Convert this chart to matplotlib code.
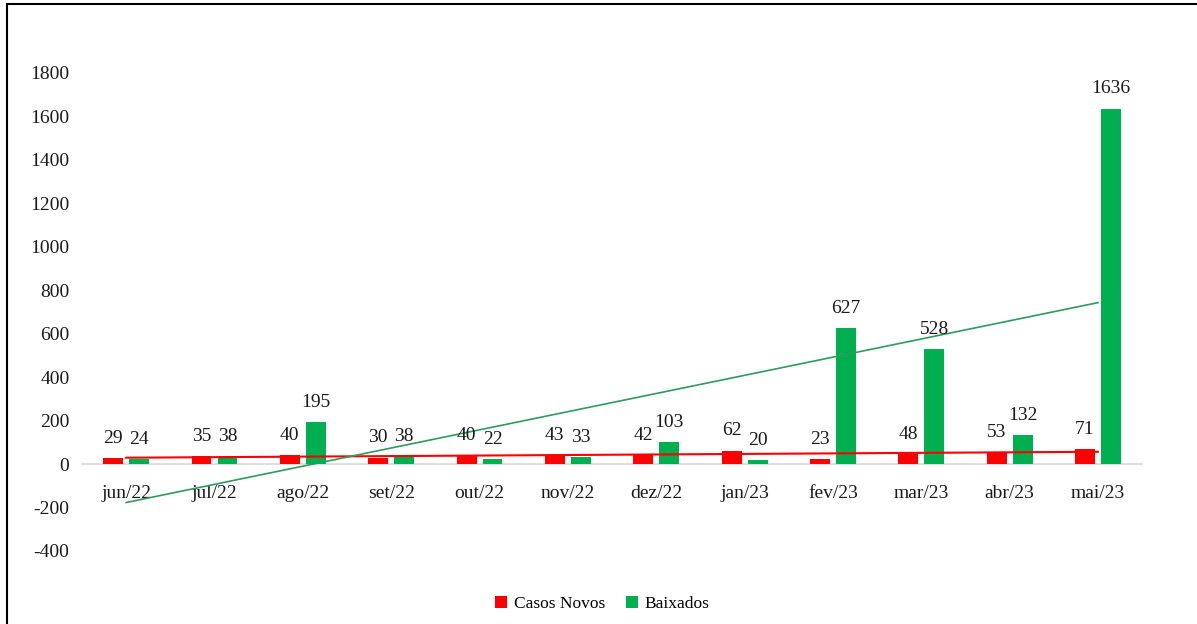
import numpy as np
import matplotlib

matplotlib.use("Agg")
import matplotlib.pyplot as plt
from matplotlib.patches import Rectangle

plt.rcParams["font.family"] = ["Liberation Serif", "DejaVu Serif"]
plt.rcParams["axes.unicode_minus"] = False

meses = ["jun/22", "jul/22", "ago/22", "set/22", "out/22", "nov/22",
         "dez/22", "jan/23", "fev/23", "mar/23", "abr/23", "mai/23"]
casos_novos = [29, 35, 40, 30, 40, 43, 42, 62, 23, 48, 53, 71]
baixados = [24, 38, 195, 38, 22, 33, 103, 20, 627, 528, 132, 1636]

RED = "#FF0000"
GREEN = "#00B050"

fig = plt.figure(figsize=(11.97, 6.24), dpi=100)
ax = fig.add_axes([0.0685, 0.117, 0.8856, 0.8357])

x = np.arange(len(meses))
w = 0.226
off = 0.147
b1 = ax.bar(x - off, casos_novos, w, color=RED, label="Casos Novos", zorder=2)
b2 = ax.bar(x + off, baixados, w, color=GREEN, label="Baixados", zorder=2)

# linear trendlines (as in Excel)
for vals, col, lw in ((casos_novos, RED, 1.5), (baixados, "#2E9B5E", 1.2)):
    k, c = np.polyfit(x, vals, 1)
    ax.plot(x, k * x + c, color=col, lw=lw, zorder=3)

for bars, vals in ((b1, casos_novos), (b2, baixados)):
    for r, v in zip(bars, vals):
        ax.annotate(str(v), (r.get_x() + r.get_width() / 2, v),
                    xytext=(0, 8), textcoords="offset points",
                    ha="center", va="bottom", fontsize=14, color="#1a1a1a")

ax.set_xlim(-0.5, len(meses) - 0.5)
ax.set_ylim(-400, 2000)
ax.set_yticks(np.arange(-400, 1801, 200))
ax.set_xticks(x)
ax.set_xticklabels(meses)
ax.tick_params(axis="x", length=0, pad=15, labelsize=14, colors="#1a1a1a")
ax.tick_params(axis="y", length=0, pad=9, labelsize=14, colors="#1a1a1a")
for s in ("top", "right", "left"):
    ax.spines[s].set_visible(False)
ax.spines["bottom"].set_position(("data", 0))
ax.spines["bottom"].set_color("#D9D9D9")
ax.spines["bottom"].set_linewidth(1.2)
ax.spines["bottom"].set_zorder(1)

fig.legend(handles=[b1, b2], loc="center", bbox_to_anchor=(0.503, 0.032),
           ncol=2, frameon=False, fontsize=12.5, handlelength=0.7,
           handleheight=0.7, handletextpad=0.4, columnspacing=1.2)

# chart border
fig.patches.append(Rectangle((7 / 1197, -0.05), 1.1, 1 - 4 / 624 + 0.05,
                             transform=fig.transFigure, fill=False,
                             edgecolor="black", lw=1.5))

fig.savefig("out.png", dpi=100)
